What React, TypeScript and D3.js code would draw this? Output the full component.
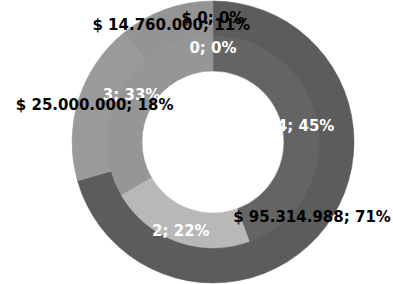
import React, { useRef, useEffect } from "react";
import * as d3 from "d3";

// inner ring: number of items
const countLabels = ["0", "4", "2", "3"];
const countValues = [0, 4, 2, 3];
const countPercents = ["0%", "45%", "22%", "33%"];

// outer ring: amounts
const amountLabels = ["$ 0", "$ 95.314.988", "$ 25.000.000", "$ 14.760.000"];
const amountValues = [0, 95314988, 25000000, 14760000];
const amountPercents = ["0%", "71%", "18%", "11%"];

const innerColors = ["#d0d0d0", "#646464", "#b8b8b8", "#969696"];
const outerColors = ["#d0d0d0", "#5c5c5c", "#9a9a9a", "#949494"];

const App = () => {
  const chartRef = useRef<SVGSVGElement>(null);

  useEffect(() => {
    document.body.style.margin = "0";
    const svg = d3.select(chartRef.current);
    svg.selectAll("*").remove();

    const width = 393;
    const height = 284;
    const cx = 213;
    const cy = 142;

    const hole = 71;
    const mid = 106;
    const outer = 141;

    const pie = d3.pie<number>().value((d) => d).sort(null);

    const innerArc = d3.arc<d3.PieArcDatum<number>>().innerRadius(hole).outerRadius(mid);
    const outerArc = d3.arc<d3.PieArcDatum<number>>().innerRadius(mid - 0.5).outerRadius(outer);
    const innerLabelArc = d3.arc<d3.PieArcDatum<number>>().innerRadius(94).outerRadius(94);
    const outerLabelArc = d3.arc<d3.PieArcDatum<number>>().innerRadius(124).outerRadius(124);

    svg.attr("width", width).attr("height", height).style("background", "#fff");

    const g = svg.append("g").attr("transform", `translate(${cx},${cy})`);

    const innerData = pie(countValues);
    const outerData = pie(amountValues);

    // outer ring first
    g.selectAll("path.outer")
      .data(outerData)
      .enter()
      .append("path")
      .attr("class", "outer")
      .attr("d", outerArc)
      .attr("fill", (d, i) => outerColors[i])
      .attr("stroke", (d, i) => outerColors[i])
      .attr("stroke-width", 0.5);

    g.selectAll("path.inner")
      .data(innerData)
      .enter()
      .append("path")
      .attr("class", "inner")
      .attr("d", innerArc)
      .attr("fill", (d, i) => innerColors[i])
      .attr("stroke", (d, i) => innerColors[i])
      .attr("stroke-width", 0.5);

    // inner labels (white)
    g.selectAll("text.inner")
      .data(innerData)
      .enter()
      .append("text")
      .attr("class", "inner")
      .attr("transform", (d) => `translate(${innerLabelArc.centroid(d)})`)
      .attr("dy", "0.35em")
      .style("text-anchor", "middle")
      .style("font-size", "15px")
      .style("font-family", "'DejaVu Sans', sans-serif")
      .style("font-weight", "bold")
      .style("fill", "#fff")
      .text((d, i) => `${countLabels[i]}; ${countPercents[i]}`);

    // outer labels (black)
    g.selectAll("text.outer")
      .data(outerData)
      .enter()
      .append("text")
      .attr("class", "outer")
      .attr("transform", (d) => `translate(${outerLabelArc.centroid(d)})`)
      .attr("dy", "0.35em")
      .style("text-anchor", "middle")
      .style("font-size", "15px")
      .style("font-family", "'DejaVu Sans', sans-serif")
      .style("font-weight", "bold")
      .style("fill", "#000")
      .text((d, i) => `${amountLabels[i]}; ${amountPercents[i]}`);
  }, []);

  return <svg ref={chartRef}></svg>;
};

export default App;
